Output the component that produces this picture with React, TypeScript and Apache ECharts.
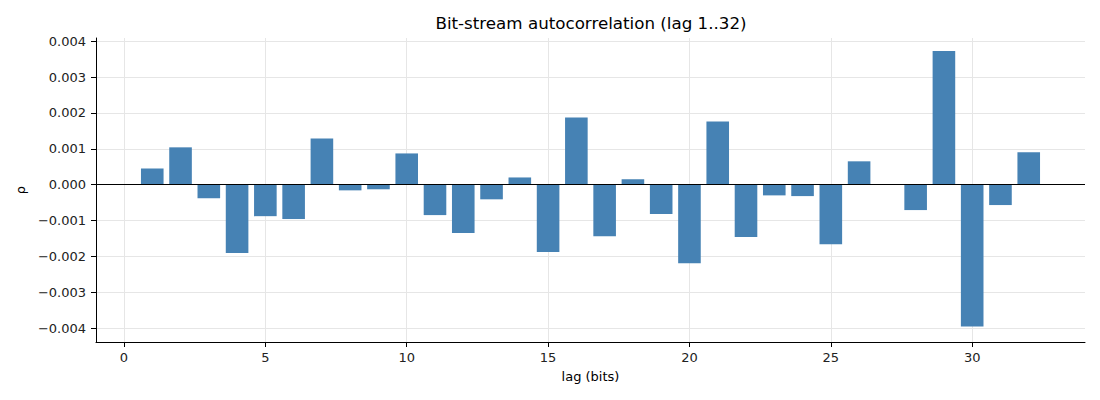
import React, { useEffect, useRef } from 'react';
import * as echarts from 'echarts';

// lag values 1..32 and autocorrelation
const lags = [
  1, 2, 3, 4, 5, 6, 7, 8, 9, 10, 11, 12, 13, 14, 15, 16,
  17, 18, 19, 20, 21, 22, 23, 24, 25, 26, 27, 28, 29, 30, 31, 32,
];
const rho = [
  0.00045, 0.00104, -0.00038, -0.00191, -0.00088, -0.00096, 0.00129, -0.00016,
  -0.00013, 0.00087, -0.00085, -0.00135, -0.00041, 0.0002, -0.00188, 0.00187,
  -0.00144, 0.00015, -0.00082, -0.00219, 0.00176, -0.00146, -0.0003, -0.00032,
  -0.00166, 0.00065, 0.0, -0.00071, 0.00373, -0.00396, -0.00057, 0.0009,
];

const TITLE = 'Bit-stream autocorrelation (lag 1..32)';
const X_NAME = 'lag (bits)';
const Y_NAME = 'ρ';

const FONT = '"DejaVu Sans", sans-serif';

const fmtY = (v: number) => {
  const s = Math.abs(v).toFixed(3);
  return v < -1e-9 ? `\u2212${s}` : s;
};

export default function App() {
  const chartRef = useRef<HTMLDivElement>(null);

  useEffect(() => {
    if (!chartRef.current) return;
    const chart = echarts.init(chartRef.current, undefined, { renderer: 'svg' });

    chart.setOption({
      animation: false,
      backgroundColor: '#fff',
      textStyle: { fontFamily: FONT },
      title: {
        text: TITLE,
        left: 586,
        textAlign: 'center',
        top: 9,
        textStyle: { fontFamily: FONT, fontSize: 16.7, fontWeight: 'normal', color: '#000' },
      },
      grid: { left: 96, right: 15, top: 38, bottom: 58, containLabel: false },
      xAxis: {
        type: 'value',
        min: -0.99,
        max: 33.99,
        splitNumber: 7,
        minInterval: 5,
        maxInterval: 5,
        name: X_NAME,
        nameLocation: 'middle',
        nameGap: 28,
        nameTextStyle: { fontFamily: FONT, fontSize: 13, color: '#000' },
        axisLine: { onZero: false, lineStyle: { color: '#000', width: 1 } },
        axisTick: { length: 5, lineStyle: { color: '#000' } },
        axisLabel: {
          fontFamily: FONT,
          fontSize: 13,
          color: '#222',
          margin: 9,
          showMinLabel: false,
          showMaxLabel: false,
        },
        splitLine: {
          show: true,
          showMinLine: false,
          showMaxLine: false,
          lineStyle: { color: '#e6e6e6', width: 1 },
        },
      },
      yAxis: {
        type: 'value',
        min: -0.00439,
        max: 0.00409,
        splitNumber: 8,
        minInterval: 0.001,
        maxInterval: 0.001,
        name: Y_NAME,
        nameLocation: 'middle',
        nameGap: 68,
        nameTextStyle: { fontFamily: FONT, fontSize: 13, color: '#000' },
        axisLine: { show: true, onZero: false, lineStyle: { color: '#000', width: 1 } },
        axisTick: { show: true, length: 5, lineStyle: { color: '#000' } },
        axisLabel: {
          fontFamily: FONT,
          fontSize: 13,
          color: '#222',
          margin: 10,
          showMinLabel: false,
          showMaxLabel: false,
          formatter: fmtY,
        },
        splitLine: {
          show: true,
          showMinLine: false,
          showMaxLine: false,
          lineStyle: { color: '#e6e6e6', width: 1 },
        },
      },
      series: [
        {
          type: 'bar',
          data: lags.map((l, i) => [l, rho[i]]),
          barWidth: 22.6,
          itemStyle: { color: '#4682b4' },
          markLine: {
            silent: true,
            symbol: 'none',
            label: { show: false },
            lineStyle: { color: '#000', width: 1, type: 'solid' },
            data: [{ yAxis: 0 }],
          },
        },
      ],
    });

    return () => chart.dispose();
  }, []);

  return (
    <div
      ref={chartRef}
      style={{ position: 'fixed', left: 0, top: 0, width: 1100, height: 400 }}
    />
  );
}
